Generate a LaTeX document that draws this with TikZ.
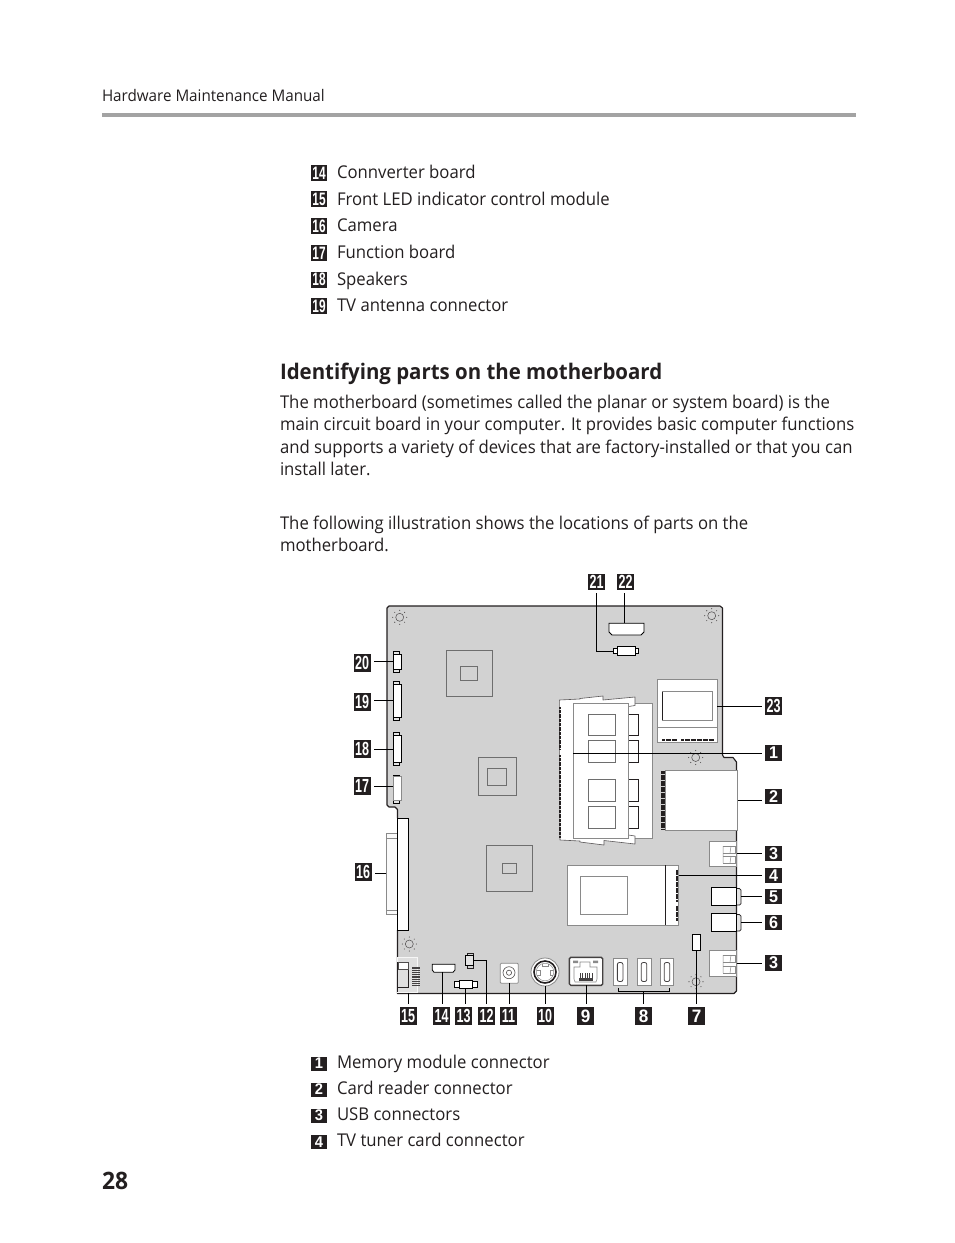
\documentclass[tikz,border=0pt]{standalone}
\usepackage{fontspec}
\setmainfont[FakeStretch=0.95]{Open Sans}
\newfontfamily\badgewide{Liberation Sans}[FakeStretch=0.95]
\newfontfamily\badgenarrow{Liberation Sans}[FakeStretch=0.66]
\newfontfamily\headf{Open Sans}[FakeStretch=0.95]
\definecolor{board}{HTML}{D2D2D2}
\definecolor{ink}{HTML}{231F20}
\definecolor{midg}{HTML}{8A8A8A}
\definecolor{rulegray}{HTML}{A3A3A3}
\tikzset{
  every node/.style={inner sep=0pt,outer sep=0pt},
  badge/.style={fill=ink,text=white,minimum width=17pt,minimum height=17.5pt,font=\badgenarrow\fontsize{19}{19}\selectfont\bfseries},
  badgeone/.style={fill=ink,text=white,minimum width=17pt,minimum height=15.5pt,font=\badgewide\fontsize{17}{17}\selectfont\bfseries},
  badgelow/.style={fill=ink,text=white,minimum width=17pt,minimum height=17.5pt,font=\badgewide\fontsize{18}{18}\selectfont\bfseries},
  listbadge/.style={fill=ink,text=white,minimum width=15.5pt,minimum height=16pt,font=\badgenarrow\fontsize{18}{18}\selectfont\bfseries},
  listone/.style={fill=ink,text=white,minimum width=16pt,minimum height=14pt,font=\badgewide\fontsize{15.5}{15.5}\selectfont\bfseries},
  bodytext/.style={anchor=base west,text=ink,font=\fontsize{17.6}{17.6}\selectfont},
  leader/.style={draw=black,line width=.75pt},
  toB/.style={shorten >=3pt},
  part/.style={draw=black,fill=white,line width=.8pt},
  palepart/.style={draw=midg,fill=white,line width=.7pt},
  chip/.style={draw=midg!80!black,line width=.8pt},
  card/.style={draw=midg,fill=white,line width=.7pt},
  tab/.style={draw=black,fill=board!60!white,line width=.6pt},
}
\newcommand{\comp}[6]{%
  \pgfmathsetmacro{\cw}{#4-#2}\pgfmathsetmacro{\ch}{#5-#3}%
  \pgfmathsetmacro{\cx}{(#4+#2)/2}\pgfmathsetmacro{\cy}{(#5+#3)/2}%
  \node[#6,minimum width=\cw pt,minimum height=\ch pt] (#1) at (\cx,\cy) {};}
\newcommand{\gear}[2]{%
  \draw[draw=ink!80,line width=.5pt] (#1,#2) circle (4pt);
  \foreach \a in {0,45,...,315}{\fill[ink!80] (#1,#2)++(\a:7pt) circle (.55pt);}}
\begin{document}
\begin{tikzpicture}[x=1pt,y=-1pt]
\useasboundingbox (0,0) rectangle (954,1243);
\fill[white] (0,0) rectangle (954,1243);

% ---------- page text
\node[bodytext,font=\fontsize{16}{16}\selectfont] (hdr) at (102,101) {Hardware Maintenance Manual};
\fill[rulegray] (102,113) rectangle (856,117);

\node[listbadge] (l14) at (319,173) {14};
\node[listbadge] (l15) at (319,199) {15};
\node[listbadge] (l16) at (319,226) {16};
\node[listbadge] (l17) at (319,253) {17};
\node[listbadge] (l18) at (319,279.5) {18};
\node[listbadge] (l19) at (319,306) {19};
\node[bodytext] (t14) at (337,178) {Connverter board};
\node[bodytext] (t15) at (337,205) {Front LED indicator control module};
\node[bodytext] (t16) at (337,231) {Camera};
\node[bodytext] (t17) at (337,258) {Function board};
\node[bodytext] (t18) at (337,285) {Speakers};
\node[bodytext] (t19) at (337,311) {TV antenna connector};

\node[anchor=base west,text=ink,font=\headf\fontsize{21.5}{21.5}\selectfont\bfseries] (head) at (280,379) {Identifying parts on the motherboard};

\node[bodytext] (p1) at (280,408) {The motherboard (sometimes called the planar or system board) is the};
\node[bodytext] (p2) at (280,430) {main circuit board in your computer. It provides basic computer functions};
\node[bodytext] (p3) at (280,453) {and supports a variety of devices that are factory-installed or that you can};
\node[bodytext] (p4) at (280,475) {install later.};
\node[bodytext] (p5) at (280,529) {The following illustration shows the locations of parts on the};
\node[bodytext] (p6) at (280,551) {motherboard.};

\node[listone] (k1) at (319,1063.5) {1};
\node[listone] (k2) at (319,1089.5) {2};
\node[listone] (k3) at (319,1115.5) {3};
\node[listone] (k4) at (319,1142) {4};
\node[bodytext] (m1) at (337,1068) {Memory module connector};
\node[bodytext] (m2) at (337,1094) {Card reader connector};
\node[bodytext] (m3) at (337,1120) {USB connectors};
\node[bodytext] (m4) at (337,1146) {TV tuner card connector};
\node[anchor=base west,text=ink,font=\headf\fontsize{24}{24}\selectfont\bfseries] (pg) at (102,1189) {28};

% ---------- board
\fill[board] (389,606) -- (720,606) -- (722.5,608) -- (722.5,755) -- (724,757.5) -- (733,757.5) -- (736.5,762) -- (736.5,991) -- (734,993.5)
  -- (397.5,993.5) -- (397.5,809.5) -- (395,807) -- (389,807) -- (387,805) -- (387,608) -- cycle;
\draw[ink,line width=1.1pt,line join=round] (397.5,930) -- (397.5,993.5) -- (734,993.5) -- (736.5,991) -- (736.5,762) -- (733,757.5) -- (724,757.5) -- (722.5,755) -- (722.5,608) -- (720,606) -- (389,606) -- (387,608) -- (387,805) -- (389,807) -- (395,807) -- (397.5,809.5) -- (397.5,818);

\gear{399.7}{617.3}\gear{711.7}{615.7}\gear{695.7}{757.5}\gear{409.3}{944}\gear{696}{981.7}

% chips
\comp{chipa}{446.3}{650.3}{492.7}{696.3}{chip}
\draw[chip] (460.3,666) rectangle (477.7,680.7);
\comp{chipb}{478}{757.3}{516.3}{795.3}{chip}
\draw[chip] (487.3,768.3) rectangle (506.7,785);
\comp{chipc}{486}{845.3}{532}{891.3}{chip}
\draw[chip] (502,863) rectangle (516.3,873.3);

% left connectors
\draw[tab] (393.3,651) rectangle (399.7,672);
\comp{c20}{393.3}{654}{401.7}{669}{part}
\draw[tab] (393.3,681.5) rectangle (399.7,720.5);
\comp{c19}{393.3}{684}{401.7}{717.7}{part}
\draw[tab] (393.3,731.8) rectangle (399.7,765.5);
\comp{c18}{393.3}{735.7}{401.7}{762.7}{part}
\draw[tab] (393.3,775) rectangle (399.7,803.5);
\comp{c17}{393.3}{776.7}{401.7}{800.7}{palepart}

% camera connector
\comp{c16body}{386}{833.3}{398}{914.3}{draw=midg,fill=white!90!board,line width=.6pt}
\draw[midg,line width=.5pt] (386,838) -- (398,838) (386,910) -- (398,910);
\comp{c16}{397.7}{818.3}{408.3}{930.3}{part}

% memory module
\comp{modrear}{628}{703.3}{652.7}{838.3}{draw=midg,fill=white,line width=.6pt}
\filldraw[fill=white,draw=ink!75,line width=.6pt,line join=round]
 (559.3,700) -- (580,699) -- (580,698.5) -- (603,696) -- (603,700) -- (635,697) -- (635,705.5) -- (628.5,706.5) -- (628.5,835) -- (635,836) -- (635,844) -- (604,840.5) -- (604,845) -- (580,842) -- (580,841) -- (560,840) -- cycle;
\draw[ink,line width=2.2pt,dash pattern=on .9pt off .4pt] (560,707) -- (560,749) (560,755) -- (560,838);
\comp{side1}{628}{714}{638.3}{735.7}{draw=ink,fill=white,line width=.8pt}
\comp{side2}{628}{740.7}{638.3}{762.3}{draw=ink,fill=white,line width=.8pt}
\comp{side3}{628}{779.3}{638.3}{801}{draw=ink,fill=white,line width=.8pt}
\comp{side4}{628}{806}{638.3}{828}{draw=ink,fill=white,line width=.8pt}
\comp{c1}{573.3}{703.3}{628}{838.3}{card}
\comp{ram1}{588.3}{714}{615}{735.7}{chip}
\comp{ram2}{588.3}{740.7}{615}{762.3}{chip}
\comp{ram3}{588.3}{779.3}{615}{801}{chip}
\comp{ram4}{588.3}{806}{615}{828}{chip}

% top connectors
\draw[part] (609,623.3) -- (644,623.3) -- (644,632) -- (641,635) -- (612,635) -- (609,632) -- cycle;
\coordinate (c22) at (624,623.3);
\comp{c21l}{613.3}{648.5}{617.7}{653.5}{part}
\comp{c21r}{635}{648.5}{638.7}{653.5}{part}
\comp{c21}{617.7}{646.7}{635}{655}{part}

% device 23
\comp{c23}{657.3}{679.3}{717.3}{742.3}{card}
\draw[midg,line width=.7pt] (662.7,691.7) rectangle (712.7,720.3);
\draw[ink,line width=.8pt] (662.7,720.3) -- (662.7,691.7);
\draw[midg,line width=.6pt] (657.3,727.7) -- (717.3,727.7);
\draw[ink,line width=2pt,dash pattern=on .9pt off .3pt] (662,740) -- (677,740) (681,740) -- (714,740);

% card reader
\comp{c2}{665}{770}{737.7}{830.7}{card}
\draw[ink,line width=3.6pt,dash pattern=on .9pt off .3pt] (663.2,771) -- (663.2,829.5);

% USB
\comp{c3a}{709.3}{841}{736.7}{866.7}{card}
\draw[midg,line width=.5pt,fill=white] (723,846) -- (735.5,846) -- (735.5,853) -- (723,853) (723,856) -- (735.5,856) -- (735.5,863) -- (723,863);
\draw[midg,line width=.5pt] (723,846) -- (723,863) (731,846)--(730,853) (731,856)--(730,863);
\comp{c3b}{709.3}{950}{736.7}{976.7}{card}
\draw[midg,line width=.5pt,fill=white] (723,955) -- (735.5,955) -- (735.5,962) -- (723,962) (723,966) -- (735.5,966) -- (735.5,973) -- (723,973);
\draw[midg,line width=.5pt] (723,955) -- (723,973) (731,955)--(730,962) (731,966)--(730,973);

% TV tuner card
\comp{c4body}{567.3}{865}{678.7}{925.3}{card}
\draw[midg,line width=.7pt] (580.7,876) rectangle (627.7,914.3);
\draw[ink,line width=.8pt] (665,865) -- (665,925.3);
\draw[ink,line width=2.4pt,dash pattern=on .9pt off .3pt] (677,869.5) -- (677,901.5) (677,905.5) -- (677,921);
\coordinate (c4) at (678.7,875.7);

% audio
\comp{c5tab}{735.5}{888.5}{741}{905}{draw=ink,fill=board!60!white,line width=.7pt,rounded corners=1.5pt}
\comp{c5}{711}{887.3}{736}{905.7}{part}
\comp{c6tab}{735.5}{914.5}{741}{931}{draw=ink,fill=board!60!white,line width=.7pt,rounded corners=1.5pt}
\comp{c6}{711}{913.3}{736}{931.7}{part}

% small connector 7
\comp{c7}{692.3}{934}{700.7}{950}{part}

% HDMI-like ports
\foreach \xa/\xb [count=\i] in {613.3/627,637/651,660.3/673.7}{
  \comp{p8\i}{\xa}{958.3}{\xb}{985.3}{draw=midg,fill=white,line width=.7pt}
  \draw[ink!85,fill=white,line width=.8pt,rounded corners=2pt] ({(\xa+\xb)/2-2.8},962.5) rectangle ({(\xa+\xb)/2+2.8},981.5);
}

% RJ45
\comp{c9}{569.3}{957.3}{602.7}{985.3}{draw=ink!85,fill=white,line width=1.4pt,rounded corners=1.5pt}
\draw[midg,line width=.6pt] (574,979) -- (574,967) -- (580,967) -- (580,962) -- (590,962) -- (590,967) -- (597,967) -- (597,979) -- (596,982) -- (575,982) -- cycle;
\fill[midg] (573,960.5) rectangle (578,963) (593,960.5) rectangle (598,963);
\fill[ink!85] (578.5,973) rectangle (593,981);
\foreach \x in {579.5,581.2,...,593}{\draw[white,line width=.4pt] (\x,973) -- (\x,978);}

% jack and s-video
\comp{c11}{500.3}{963.3}{518.3}{983.3}{draw=midg,fill=white,line width=.8pt,rounded corners=1pt}
\draw[ink!80,line width=.6pt] (509,972.7) circle (6pt) (509,972.7) circle (2.6pt);
\node[circle,draw=midg,fill=white,line width=.8pt,minimum size=28pt] (c10) at (545,972) {};
\draw[ink,line width=1.6pt] (545,972) circle (11pt);
\draw[midg,line width=.5pt] (545,972) circle (8.8pt);
\draw[midg,line width=.5pt] (542,963.5) -- (542,966.5) -- (548,966.5) -- (548,963.5) (537,970) -- (540,970) -- (540,975) -- (537,975) (553,970) -- (550,970) -- (550,975) -- (553,975);

% bottom-left connectors
\comp{c15}{397.3}{957.3}{417.7}{992.7}{draw=board!20!white,fill=board!70!white,line width=.7pt}
\draw[ink,line width=.7pt] (397.7,962) rectangle (408.5,987) (397.7,987) -- (397.7,992);
\draw[ink!80,fill=white,line width=.6pt] (398,962) rectangle (408,969);
\foreach \y in {967,968.8,...,986}{\draw[ink!85,line width=.8pt] (412,\y) -- (420,\y);}
\draw[part] (432.3,964.3) -- (455,964.3) -- (455,970) -- (453,972.3) -- (434,972.3) -- (432.3,970) -- cycle;
\coordinate (c14) at (442,972.3);
\comp{c13l}{454.3}{981}{477}{987}{part}
\comp{c13}{459.3}{980}{472}{988}{draw=black,fill=white,line width=.8pt}
\draw[ink,line width=.7pt] (467,953.3) rectangle (473,968.5);
\comp{c12}{465.7}{955.3}{473.7}{965.7}{draw=black,fill=board!60!white,line width=.8pt}

% ---------- badges
\node[badge] (b20) at (362,663) {20};
\node[badge] (b19) at (362,702) {19};
\node[badge] (b18) at (362,749) {18};
\node[badge] (b17) at (362,786) {17};
\node[badge] (b16) at (363,872) {16};
\node[badge,minimum height=16pt] (b21) at (596.5,582) {21};
\node[badge,minimum height=16pt] (b22) at (625.5,582) {22};
\node[badge] (b23) at (773.5,706) {23};
\node[badgeone] (b1) at (773.5,753) {1};
\node[badgeone] (b2) at (773.5,796.7) {2};
\node[badgeone] (b3a) at (773.5,853.3) {3};
\node[badgeone] (b4) at (773.5,875.7) {4};
\node[badgeone] (b5) at (773.5,896.5) {5};
\node[badgeone] (b6) at (773.5,922.5) {6};
\node[badgeone] (b3b) at (773.5,963) {3};
\node[badge] (b15) at (408,1016) {15};
\node[badge] (b14) at (441.5,1016) {14};
\node[badge] (b13) at (463.5,1016) {13};
\node[badge] (b12) at (486.5,1016) {12};
\node[badge] (b11) at (508.5,1016) {11};
\node[badge] (b10) at (545,1016) {10};
\node[badgelow] (b9) at (585.5,1016) {9};
\node[badgelow] (b8) at (643.5,1016) {8};
\node[badgelow] (b7) at (696.5,1016) {7};

% ---------- leaders
\draw[leader,toB] (c20.west) -- (c20.west -| b20.east);
\draw[leader,toB] (c19.west) -- (c19.west -| b19.east);
\draw[leader,toB] (c18.west) -- (c18.west -| b18.east);
\draw[leader,toB] (b17.east -| c17.west) -- (b17.east);
\draw[leader,toB] (c16body.west) -- (c16body.west -| b16.east);
\draw[leader,toB] (b1.west -| c1.west) -- (b1.west);
\draw[leader,toB] (c23.east |- b23.west) -- (b23.west);
\draw[leader,toB] (c2.east) -- (c2.east -| b2.west);
\draw[leader,toB] (c3a.east) -- (c3a.east -| b3a.west);
\draw[leader,toB] (c4) -- (b4.west);
\draw[leader,toB] (c5tab.east) -- (c5tab.east -| b5.west);
\draw[leader,toB] (c6tab.east) -- (c6tab.east -| b6.west);
\draw[leader,toB] (c3b.east) -- (c3b.east -| b3b.west);
\draw[leader,toB] (c22) -- (c22 |- b22.south);
\draw[leader,toB] (c21l.west) -| (b21.south);
\draw[leader,toB] (c15.south -| b15.north) -- (b15.north);
\draw[leader,toB] (c14) -- (c14 |- b14.north);
\draw[leader,toB] (c13.south) -- (c13.south |- b13.north);
\draw[leader,toB] (c12.east) -| (b12.north);
\draw[leader,toB] (c11.south) -- (c11.south |- b11.north);
\draw[leader,toB] (c10.south) -- (c10.south |- b10.north);
\draw[leader,toB] (c9.south) -- (c9.south |- b9.north);
\draw[leader,toB] (c7.south) -- (c7.south |- b7.north);
\coordinate (br8) at (643.5,991.7);
\draw[leader,line width=.8pt] (618.3,988) -- (618.3,991.7) -- (669,991.7) -- (669,988);
\draw[leader,toB] (br8) -- (br8 |- b8.north);
\end{tikzpicture}
\end{document}
